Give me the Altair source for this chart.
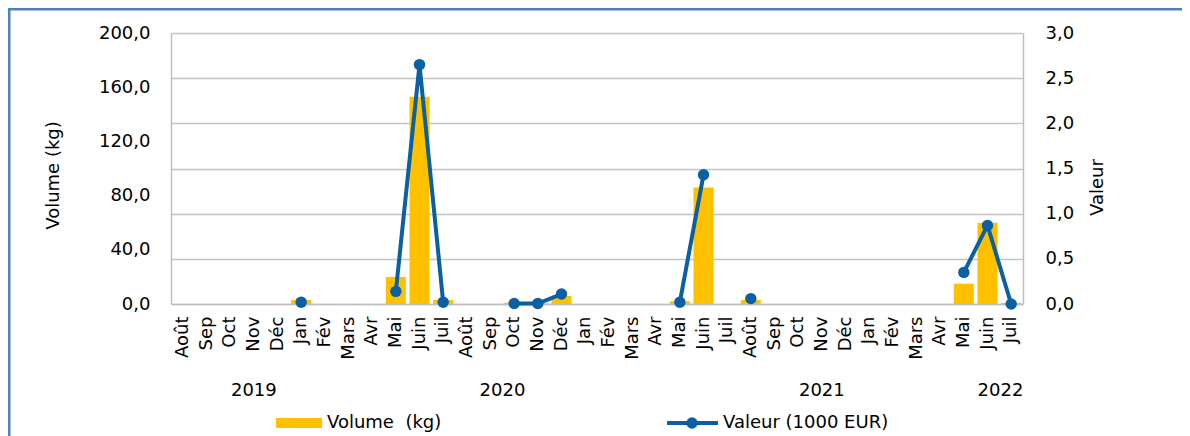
import altair as alt
import pandas as pd

# ---------------- data ----------------
month_names = ["Août", "Sep", "Oct", "Nov", "Déc",
               "Jan", "Fév", "Mars", "Avr", "Mai", "Juin", "Juil", "Août", "Sep", "Oct", "Nov", "Déc",
               "Jan", "Fév", "Mars", "Avr", "Mai", "Juin", "Juil", "Août", "Sep", "Oct", "Nov", "Déc",
               "Jan", "Fév", "Mars", "Avr", "Mai", "Juin", "Juil"]
month_years = [2019] * 5 + [2020] * 12 + [2021] * 12 + [2022] * 7

volume_kg = [None, None, None, None, None,
             3.0, None, None, None, 20.0, 153.0, 3.0, None, None, 1.0, 0.5, 6.0,
             None, None, None, None, 2.0, 86.0, None, 3.0, None, None, None, None,
             None, None, None, None, 15.0, 60.0, 0.8]

valeur_keur = [None, None, None, None, None,
               0.02, None, None, None, 0.14, 2.65, 0.02, None, None, 0.005, 0.005, 0.11,
               None, None, None, None, 0.02, 1.43, None, 0.06, None, None, None, None,
               None, None, None, None, 0.35, 0.87, 0.0]

years = ["2019", "2020", "2021", "2022"]
year_anchor = ["Nov 2019", "Sep 2020", "Nov 2021", "Juin 2022"]
year_dx = [0, 12, 0, 13]

legend_labels = ["Volume\u00a0 (kg)", "Valeur (1000 EUR)"]

left_ticks = [0, 40, 80, 120, 160, 200]
right_ticks = [0, 0.5, 1.0, 1.5, 2.0, 2.5, 3.0]

# ---------------- styles ----------------
FONT = "DejaVu Sans"
YELLOW = "#FFC000"
BLUE = "#0B5FA3"
FRAME = "#4F81BD"
W, H = 852, 271

keys = [f"{m} {y}" for m, y in zip(month_names, month_years)]
df = pd.DataFrame({"key": keys, "mois": month_names,
                   "volume": volume_kg, "valeur": valeur_keur})

xscale = alt.Scale(domain=keys, paddingInner=0.155, paddingOuter=0.0775)
num_fmt = "replace(format(datum.value, '.1f'), '.', ',')"

x_main = alt.X("key:N", scale=xscale, sort=keys, title=None,
               axis=alt.Axis(labelAngle=270, labelPadding=12,
                             labelExpr="split(datum.label, ' ')[0]",
                             domain=True, ticks=False, grid=False))
x_plain = alt.X("key:N", scale=xscale, sort=keys, title=None)

bars = alt.Chart(df).mark_bar(color=YELLOW).encode(
    x=x_main,
    y=alt.Y("volume:Q", scale=alt.Scale(domain=[0, 200], nice=False, zero=True),
            axis=alt.Axis(orient="left", values=left_ticks, grid=False,
                          labelExpr=num_fmt, labelPadding=21,
                          title="Volume (kg)", titleAngle=270,
                          titleX=-118, titleY=142,
                          titleAlign="center", titleBaseline="middle"))
)

line = alt.Chart(df).mark_line(color=BLUE, strokeWidth=4,
                               invalid="break-paths-show-domains").encode(
    x=x_plain,
    y=alt.Y("valeur:Q", scale=alt.Scale(domain=[0, 3], nice=False, zero=True),
            axis=alt.Axis(orient="right", values=right_ticks, grid=True,
                          labelExpr=num_fmt, labelPadding=22,
                          title="Valeur", titleAngle=270,
                          titleX=74, titleY=154,
                          titleAlign="center", titleBaseline="middle"))
)

points = alt.Chart(df).mark_point(filled=True, color=BLUE, size=130, opacity=1).encode(
    x=x_plain,
    y=alt.Y("valeur:Q", scale=alt.Scale(domain=[0, 3], nice=False, zero=True), axis=None)
)

year_layers = []
for yr, anc, dx in zip(years, year_anchor, year_dx):
    year_layers.append(
        alt.Chart(pd.DataFrame({"key": [anc], "t": [yr]})).mark_text(
            font=FONT, fontSize=18, color="#000", dx=dx, baseline="middle", align="center"
        ).encode(x=x_plain, y=alt.value(358), text="t:N")
    )

one = pd.DataFrame({"a": [0]})
leg_rect = alt.Chart(one).mark_rect(color=YELLOW).encode(
    x=alt.value(105), x2=alt.value(151), y=alt.value(385), y2=alt.value(395))
leg_txt1 = alt.Chart(pd.DataFrame({"t": [legend_labels[0]]})).mark_text(
    font=FONT, fontSize=18, color="#000", align="left", baseline="middle").encode(
    x=alt.value(156), y=alt.value(390), text="t:N")
leg_line = alt.Chart(one).mark_rule(color=BLUE, strokeWidth=4).encode(
    x=alt.value(496), x2=alt.value(547), y=alt.value(390))
leg_pt = alt.Chart(one).mark_point(filled=True, color=BLUE, size=130, opacity=1).encode(
    x=alt.value(521), y=alt.value(390))
leg_txt2 = alt.Chart(pd.DataFrame({"t": [legend_labels[1]]})).mark_text(
    font=FONT, fontSize=18, color="#000", align="left", baseline="middle").encode(
    x=alt.value(552), y=alt.value(390), text="t:N")

frame_top = alt.Chart(one).mark_rule(color=FRAME, strokeWidth=3).encode(
    x=alt.value(-163), x2=alt.value(1011), y=alt.value(-24))
frame_left = alt.Chart(one).mark_rule(color=FRAME, strokeWidth=3).encode(
    x=alt.value(-162), y=alt.value(-25), y2=alt.value(403))

chart = alt.layer(
    bars, line, points, *year_layers,
    leg_rect, leg_txt1, leg_line, leg_pt, leg_txt2, frame_top, frame_left
).resolve_scale(y="independent").properties(
    width=W, height=H,
    autosize=alt.AutoSizeParams(type="none"),
    padding={"left": 163, "top": 25, "right": 159, "bottom": 132},
    background="white",
).configure_view(stroke=None).configure_axis(
    labelFont=FONT, titleFont=FONT, labelFontSize=18, titleFontSize=18,
    titleFontWeight="normal", labelColor="#000", titleColor="#000",
    ticks=False, domainColor="#BFBFBF", domainWidth=1.5,
    gridColor="#C4C4C4", gridWidth=1.5
)

chart.save("out.html", embed_options={"renderer": "svg", "actions": False})
